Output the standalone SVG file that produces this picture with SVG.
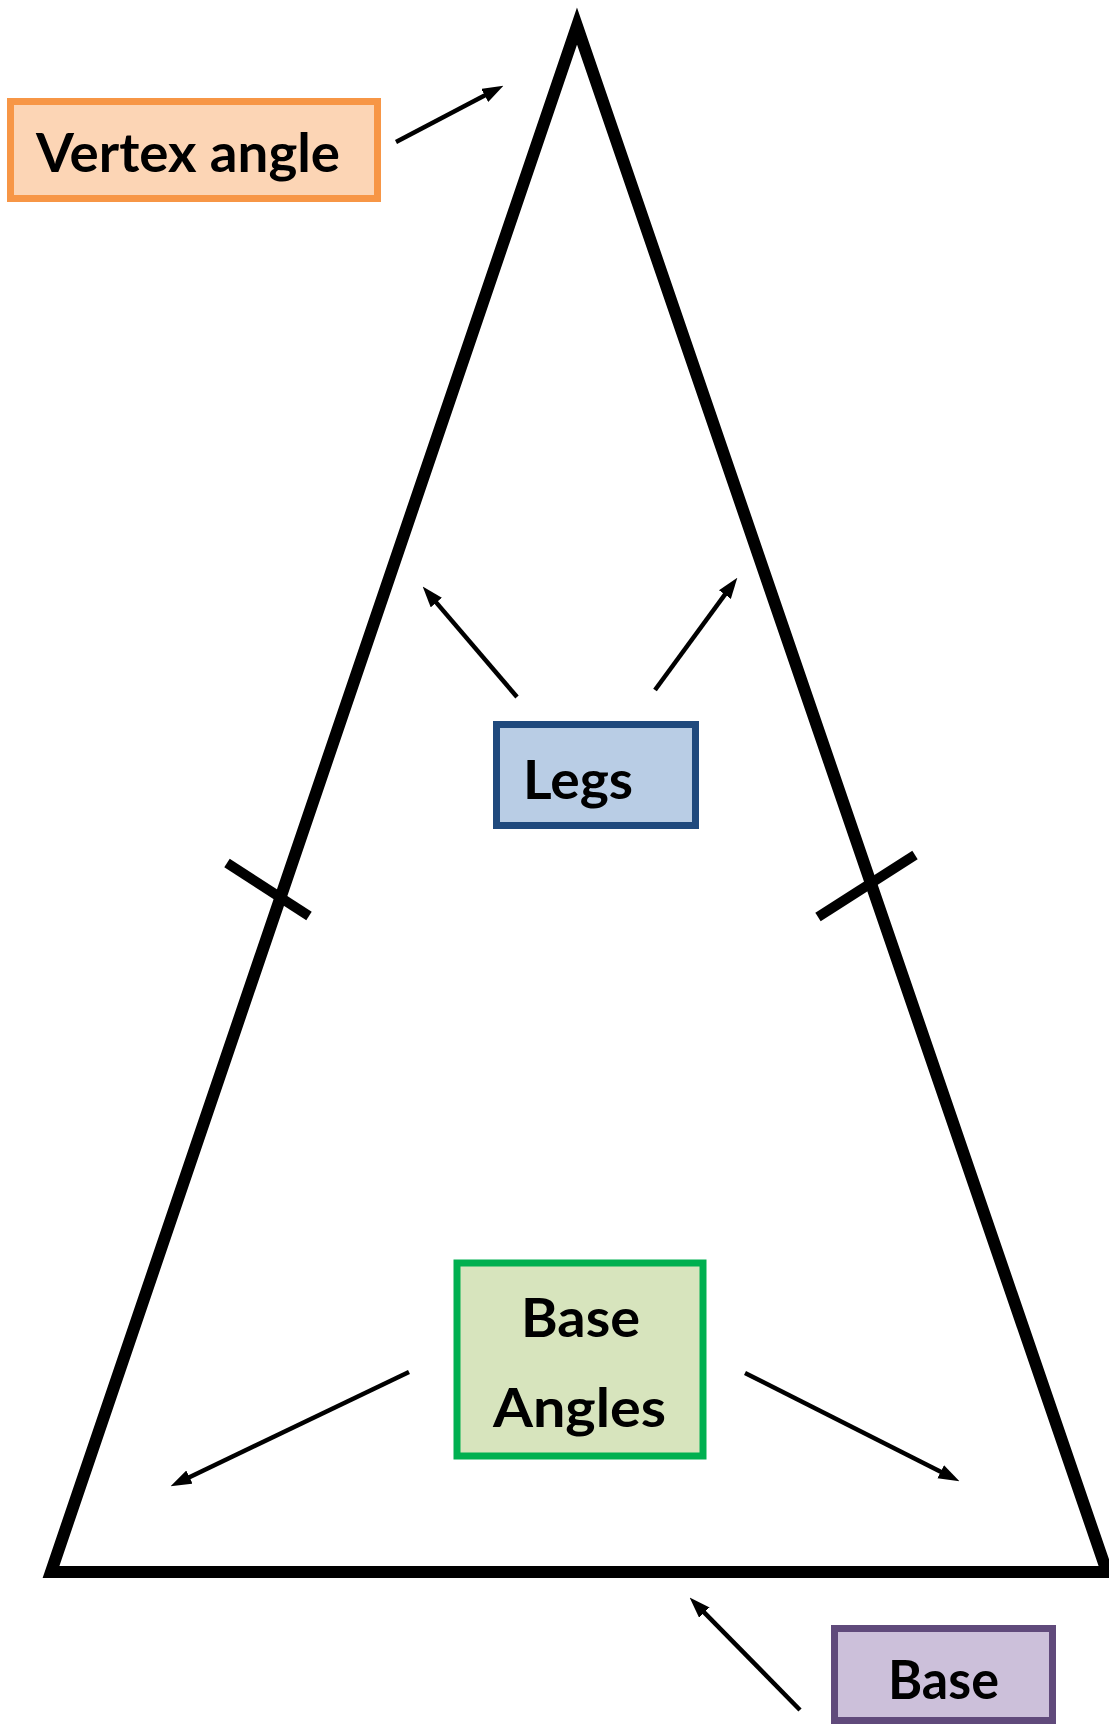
<svg xmlns="http://www.w3.org/2000/svg" width="1109" height="1724" viewBox="0 0 1109 1724">
<style>
.lbl{font-family:Lato,"Liberation Sans",sans-serif;font-weight:bold;font-size:54px;fill:#000}
.conn{stroke:#000;stroke-width:4.5;fill:none}
.box{stroke-width:7}
.tick{stroke:#000;stroke-width:10}
</style>
<defs>
<marker id="ah" markerUnits="userSpaceOnUse" viewBox="0 0 20 14" markerWidth="21" markerHeight="15" refX="10" refY="7" orient="auto">
<path d="M0,0 L20,7 L0,14 z" fill="#000"/>
</marker>
</defs>
<rect width="1109" height="1724" fill="#fff"/>
<g id="triangle">
<polygon points="577,26 1107,1572 51,1572" fill="none" stroke="#000" stroke-width="12" stroke-linejoin="miter" stroke-miterlimit="10"/>
<line class="tick" x1="227" y1="863" x2="309" y2="916"/>
<line class="tick" x1="818" y1="917" x2="915" y2="855"/>
</g>
<g id="vertex-angle">
<rect class="box" x="10.5" y="101.5" width="367" height="97" fill="#FCD5B5" stroke="#F79646"/>
<text class="lbl" x="36" y="172" textLength="304" lengthAdjust="spacingAndGlyphs">Vertex angle</text>
</g>
<g id="legs">
<rect class="box" x="496.5" y="724.5" width="199" height="101" fill="#B9CDE5" stroke="#1F497D"/>
<text class="lbl" x="523" y="799" textLength="110" lengthAdjust="spacingAndGlyphs">Legs</text>
</g>
<g id="base-angles">
<rect class="box" x="457" y="1263" width="246" height="193" fill="#D7E4BD" stroke="#00B050"/>
<text class="lbl" x="521" y="1337" textLength="119" lengthAdjust="spacingAndGlyphs">Base</text>
<text class="lbl" x="493" y="1427" textLength="173" lengthAdjust="spacingAndGlyphs">Angles</text>
</g>
<g id="base">
<rect class="box" x="834.5" y="1628.5" width="218" height="92" fill="#CCC0DA" stroke="#604A7B"/>
<text class="lbl" x="888" y="1699" textLength="111" lengthAdjust="spacingAndGlyphs">Base</text>
</g>
<g id="connectors">
<line class="conn" x1="396" y1="142" x2="494.1" y2="90.6" marker-end="url(#ah)"/>
<line class="conn" x1="517" y1="697" x2="429.5" y2="594.6" marker-end="url(#ah)"/>
<line class="conn" x1="655" y1="690" x2="731.1" y2="586.1" marker-end="url(#ah)"/>
<line class="conn" x1="409" y1="1372" x2="180" y2="1481.7" marker-end="url(#ah)"/>
<line class="conn" x1="745" y1="1373" x2="950.1" y2="1476.5" marker-end="url(#ah)"/>
<line class="conn" x1="800" y1="1710" x2="697" y2="1605.1" marker-end="url(#ah)"/>
</g>
</svg>
